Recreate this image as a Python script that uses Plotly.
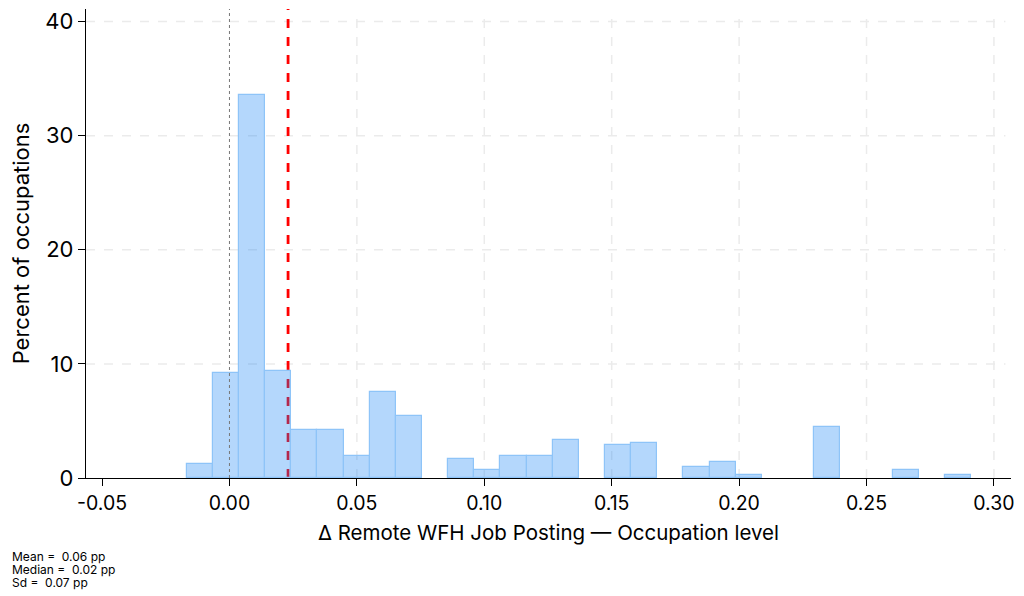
import plotly.graph_objs as go

# histogram: 30 bins, percent of occupations in each bin
bin_start = -0.0168
bin_width = 0.01026
percent = [1.2, 9.2, 33.6, 9.4, 4.2, 4.2, 1.9, 7.5, 5.4, 0.0,
           1.7, 0.7, 1.9, 1.9, 3.3, 0.0, 2.9, 3.1, 0.0, 1.0,
           1.4, 0.26, 0.0, 0.0, 4.5, 0.0, 0.0, 0.7, 0.0, 0.26]

median_val = 0.023
x_ticks = [-0.05, 0.00, 0.05, 0.10, 0.15, 0.20, 0.25, 0.30]
x_tick_text = ["-0.05", "0.00", "0.05", "0.10", "0.15", "0.20", "0.25", "0.30"]
x_grid = [0.05, 0.10, 0.15, 0.20, 0.25, 0.30]
y_ticks = [0, 10, 20, 30, 40]
y_grid = [10, 20, 30, 40]
stats_text = ["Mean =  0.06 pp", "Median =  0.02 pp", "Sd =  0.07 pp"]

# empty bins are not drawn
centers = [bin_start + bin_width * (i + 0.5) for i in range(len(percent))]
bx = [c for c, p in zip(centers, percent) if p > 0]
by = [p for p in percent if p > 0]

FONT = "Inter, DejaVu Sans, sans-serif"

fig = go.Figure()
fig.add_trace(go.Bar(
    x=bx, y=by, width=bin_width,
    marker=dict(color="rgba(12,125,244,0.31)", line=dict(color="#8ec4f8", width=1.2)),
    showlegend=False, hoverinfo="x+y",
))

xr = [-0.0563, 0.3067]
yr = [0, 41.1]

shapes = []
for gy in y_grid:
    shapes.append(dict(type="line", xref="x", yref="y", x0=xr[0], x1=0.3045, y0=gy, y1=gy,
                       line=dict(color="#ebebeb", width=1.5, dash="dash"), layer="below"))
for gx in x_grid:
    shapes.append(dict(type="line", xref="x", yref="y", x0=gx, x1=gx, y0=0, y1=40.8,
                       line=dict(color="#ebebeb", width=1.5, dash="dash"), layer="below"))
# median line (under the see-through bars)
shapes.append(dict(type="line", xref="x", yref="y", x0=median_val, x1=median_val, y0=0, y1=41.1,
                   line=dict(color="#ff0000", width=2.8, dash="dash"), layer="below"))
# zero reference line
shapes.append(dict(type="line", xref="x", yref="y", x0=0, x1=0, y0=0, y1=41.1,
                   line=dict(color="#777777", width=1, dash="dot"), layer="above"))

annotations = []
for i, t in enumerate(stats_text):
    annotations.append(dict(text=t, xref="paper", yref="paper",
                            x=-0.082, y=-0.1684 - i * 0.0277, xanchor="left", yanchor="middle",
                            align="left", showarrow=False, font=dict(size=12, color="black")))

# page body has an 8px margin, so the figure is 8px smaller than the window
fig.update_layout(
    width=1016, height=588,
    paper_bgcolor="white", plot_bgcolor="white",
    margin=dict(l=78, r=13, t=1, b=118, autoexpand=False),
    font=dict(family=FONT, color="black"),
    shapes=shapes,
    bargap=0,
    annotations=annotations,
)
fig.update_xaxes(
    range=xr, tickvals=x_ticks, ticktext=x_tick_text,
    showgrid=False, zeroline=False, automargin=False,
    showline=True, linecolor="black", linewidth=1.3,
    ticks="outside", ticklen=7, tickwidth=1.3, tickcolor="black",
    tickfont=dict(size=19.5),
    title=dict(text="Δ Remote WFH Job Posting — Occupation level", font=dict(size=20.5), standoff=12),
)
fig.update_yaxes(
    range=yr, tickvals=y_ticks,
    showgrid=False, zeroline=False, automargin=False,
    showline=True, linecolor="black", linewidth=1.3,
    ticks="outside", ticklen=7, tickwidth=1.3, tickcolor="black",
    tickfont=dict(size=22),
    title=dict(text="Percent of occupations", font=dict(size=22), standoff=14),
)

fig.write_html("out.html")
